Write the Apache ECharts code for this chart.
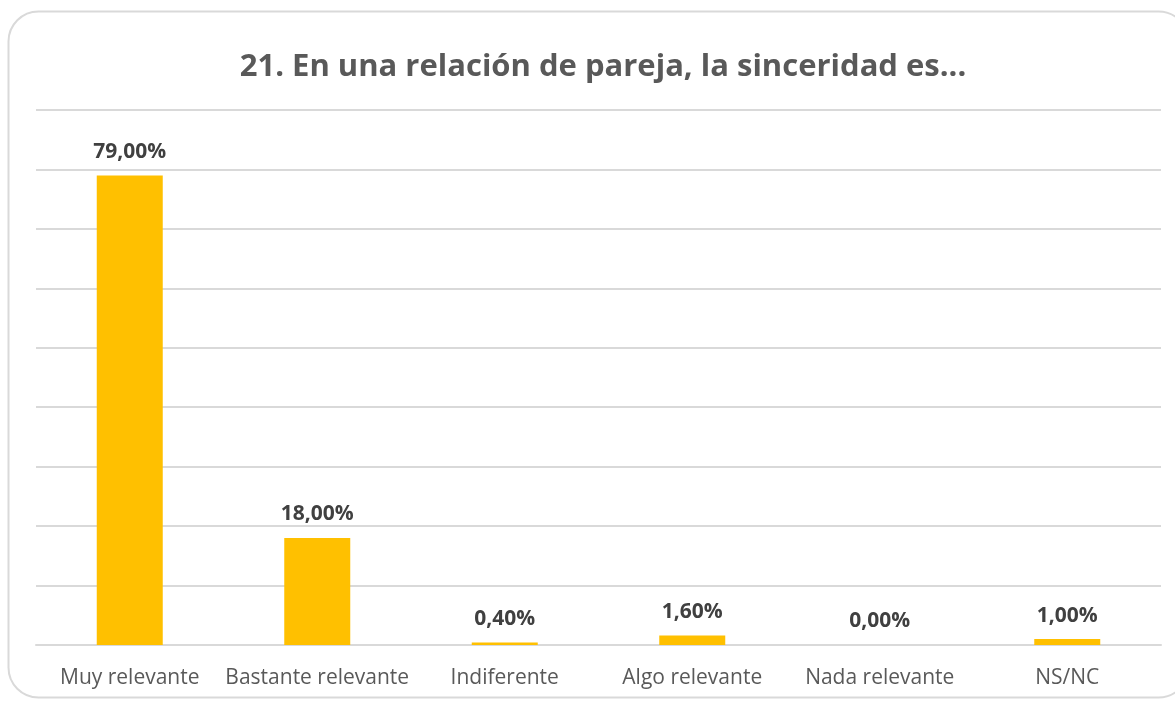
<!DOCTYPE html>
<html><head><meta charset="utf-8">
<script src="https://cdn.jsdelivr.net/npm/echarts@6/dist/echarts.min.js"></script>
<style>html,body{margin:0;padding:0;background:#fff}#c{width:1175px;height:702px}</style>
</head><body><div id="c"></div>
<script>
const title = '21. En una relación de pareja, la sinceridad es...';
const categories = ['Muy relevante','Bastante relevante','Indiferente','Algo relevante','Nada relevante','NS/NC'];
const values = [79.0, 18.0, 0.4, 1.6, 0.0, 1.0];
const chart = echarts.init(document.getElementById('c'));
chart.setOption({
  animation: false,
  graphic: [{type:'rect', shape:{x:8.5,y:11.5,width:1180,height:686,r:30}, style:{fill:'none',stroke:'#d9d9d9',lineWidth:2}, z:-1}],
  title: {text:title, left:598, textAlign:'center', top:47, textStyle:{fontFamily:'Open Sans', fontWeight:'bold', fontSize:31, color:'#595959'}},
  grid: {left:36, right:14, top:110, bottom:57},
  xAxis: {type:'category', data:categories,
    axisLine:{lineStyle:{color:'#d9d9d9', width:2}}, axisTick:{show:false},
    axisLabel:{interval:0, color:'#595959', fontFamily:'Open Sans', fontSize:21, margin:23}},
  yAxis: {type:'value', min:0, max:90, interval:10, axisLabel:{show:false}, axisLine:{show:false}, axisTick:{show:false},
    splitLine:{lineStyle:{color:'#d9d9d9', width:2}}},
  series: [{type:'bar', data:values, barWidth:66, itemStyle:{color:'#ffc000'},
    label:{show:true, position:'top', distance:13, color:'#404040', fontFamily:'Open Sans', fontWeight:'bold', fontSize:21,
      formatter: p => p.value.toFixed(2).replace('.', ',') + '%'}}]
});
</script></body></html>
